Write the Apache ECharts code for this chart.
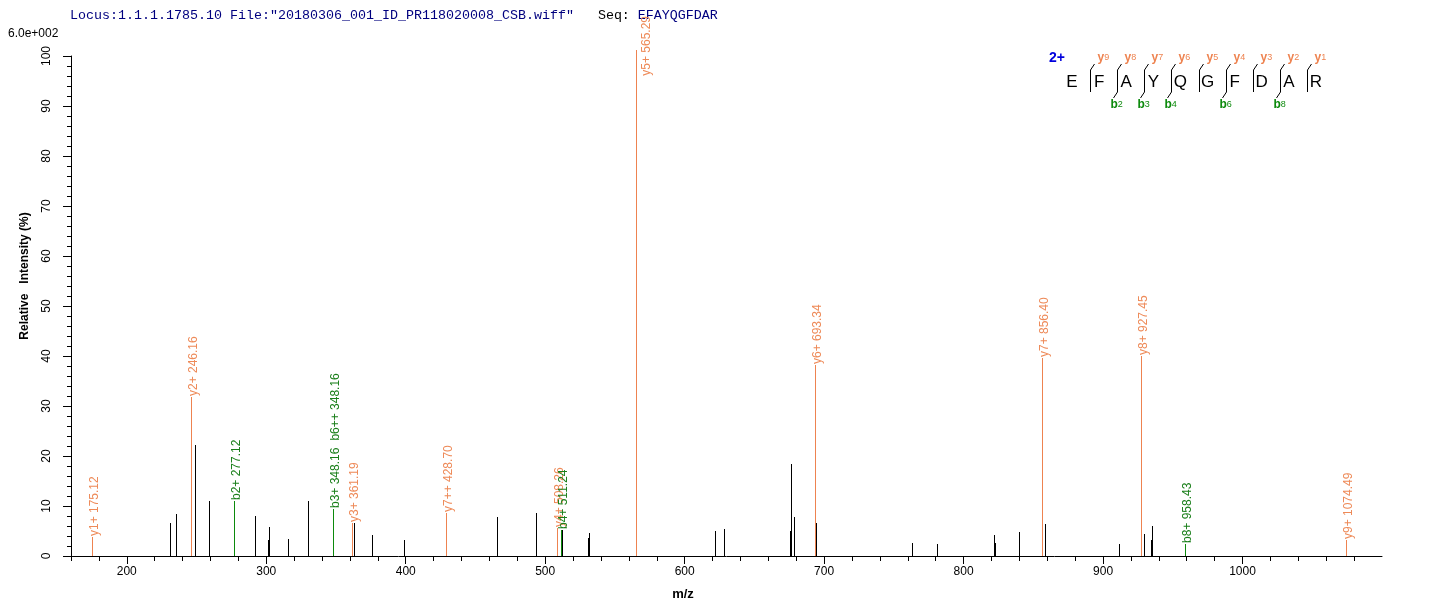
<!DOCTYPE html>
<html><head><meta charset="utf-8">
<script src="https://cdn.jsdelivr.net/npm/echarts@6/dist/echarts.min.js"></script>
<style>html,body{margin:0;padding:0;background:#fff}#c{width:1436px;height:616px}</style>
</head><body><div id="c"></div>
<script>
// ---- data ----
const titleLocus = 'Locus:1.1.1.1785.10 File:"20180306_001_ID_PR118020008_CSB.wiff"';
const seqText = 'EFAYQGFDAR';
const maxIntensityLabel = '6.0e+002';
const precursorCharge = '2+';
const sequence = ['E','F','A','Y','Q','G','F','D','A','R'];
const yIonsSeen = [9,8,7,6,5,4,3,2,1];
const bIonsSeen = [2,3,4,6,8];

const ionMz = [175.12, 246.16, 277.12, 348.16, 361.19, 428.70, 508.26, 511.24, 565.29, 693.34, 856.40, 927.45, 958.43, 1074.49];
const ionIntensity = [3.8, 31.8, 11.0, 9.5, 6.7, 8.7, 5.6, 5.3, 101.2, 38.2, 39.6, 40.0, 2.4, 3.2];
const ionKind = ['y','y','b','b','y','y','y','b','y','y','y','y','b','y'];
const ionLabels = [
  ['y1+ 175.12'], ['y2+ 246.16'], ['b2+ 277.12'], ['b3+ 348.16','b6++ 348.16'], ['y3+ 361.19'],
  ['y7++ 428.70'], ['y4+ 508.26'], ['b4+ 511.24'], ['y5+ 565.29'], ['y6+ 693.34'],
  ['y7+ 856.40'], ['y8+ 927.45'], ['b8+ 958.43'], ['y9+ 1074.49']
];

const otherMz = [231.2, 235.2, 248.8, 258.9, 291.8, 301.1, 302.0, 315.7, 330.1, 362.9, 376.1, 399.1, 465.4, 493.2,
  511.8, 530.6, 531.3, 621.8, 628.3, 675.7, 676.4, 678.6, 694.4, 762.7, 780.9, 821.9, 822.8, 839.6, 858.3,
  911.4, 929.4, 934.5, 935.2];
const otherIntensity = [6.6, 8.4, 22.2, 11.0, 8.0, 3.2, 5.8, 3.4, 11.0, 6.6, 4.3, 3.2, 7.8, 8.6,
  5.3, 3.6, 4.6, 5.0, 5.4, 5.0, 18.4, 7.8, 6.6, 2.6, 2.4, 4.2, 2.6, 4.9, 6.4,
  2.4, 4.4, 3.2, 6.0];

const xTickLabels = [200, 300, 400, 500, 600, 700, 800, 900, 1000];
const yTickLabels = [0, 10, 20, 30, 40, 50, 60, 70, 80, 90, 100];

// ---- styles ----
const ORANGE = '#EE8350', ORANGE_TXT = '#EE8A58';
const GREEN = '#0C8A0C', GREEN_TXT = '#1A7F1A';
const NAVY = '#00007F';
const SANS = '"Liberation Sans", Arial, sans-serif';
const LABEL_FONT = '12px ' + SANS;

const measureCtx = document.createElement('canvas').getContext('2d');
function textLen(t, font) { measureCtx.font = font; return measureCtx.measureText(t).width; }

const xMin = 160, xMax = 1100;
const minorTicks = [];
for (let v = xMin; v < xMax; v += 20) if (v % 100 !== 0) minorTicks.push(v);

function peakRenderer(kindColorFn, withLabels) {
  return function (params, api) {
    const mz = api.value(0), inten = api.value(1), idx = api.value(2);
    const base = api.coord([mz, 0]);
    const top = api.coord([mz, inten]);
    const x = Math.round(base[0]) + 0.5;
    const col = kindColorFn(idx);
    const children = [{
      type: 'line',
      shape: { x1: x, y1: Math.round(base[1]), x2: x, y2: Math.round(top[1]) },
      style: { stroke: col.line, lineWidth: 1 }
    }];
    if (withLabels) {
      const labs = ionLabels[idx];
      const lens = labs.map(t => textLen(t, LABEL_FONT));
      const gap = 7;
      const total = lens.reduce((a, b) => a + b, 0) + gap * (labs.length - 1);
      let lx = x + 2.5;
      let start = Math.round(top[1]) - 1;
      if (start - total < 14) { lx = x + 10; start = 16 + total; }
      labs.forEach((t, k) => {
        children.push({
          type: 'text', x: lx, y: start, rotation: Math.PI / 2,
          style: { text: t, font: LABEL_FONT, fill: col.text, align: 'left', verticalAlign: 'middle' }
        });
        start -= lens[k] + gap;
      });
    }
    return { type: 'group', children };
  };
}

// ---- graphic: title, sequence diagram ----
const graphics = [];
graphics.push({
  type: 'text', x: 70, y: 15,
  style: {
    text: '{t|' + titleLocus + '}{k|   Seq: }{t|' + seqText + '}',
    verticalAlign: 'middle', align: 'left',
    rich: {
      t: { font: '13.33px "Liberation Mono", monospace', fill: NAVY },
      k: { font: '13.33px "Liberation Mono", monospace', fill: '#000' }
    }
  }
});
graphics.push({ type: 'text', x: 8, y: 34, style: { text: maxIntensityLabel, font: '12px ' + SANS, fill: '#000', verticalAlign: 'middle' } });
graphics.push({ type: 'text', x: 25, y: 276, rotation: Math.PI / 2,
  style: { text: 'Relative   Intensity (%)', font: 'bold 12px ' + SANS, fill: '#000', align: 'center', verticalAlign: 'middle' } });
graphics.push({ type: 'text', x: 683, y: 594,
  style: { text: 'm/z', font: 'bold 13px ' + SANS, fill: '#000', align: 'center', verticalAlign: 'middle' } });

const letterX0 = 1072, letterStep = 27.1, letterY = 82;
graphics.push({ type: 'text', x: 1057, y: 58, style: { text: precursorCharge, font: 'bold 14px ' + SANS, fill: '#0000DD', align: 'center', verticalAlign: 'middle' } });
sequence.forEach((ch, i) => {
  graphics.push({ type: 'text', x: letterX0 + i * letterStep, y: letterY,
    style: { text: ch, font: '17px ' + SANS, fill: '#000', align: 'center', verticalAlign: 'middle' } });
});
for (let k = 1; k < sequence.length; k++) {
  const cx = Math.round(letterX0 + k * letterStep - 9) + 0.5;
  graphics.push({ type: 'line', shape: { x1: cx, y1: 70, x2: cx, y2: 92 }, style: { stroke: '#000', lineWidth: 1 } });
  const yn = sequence.length - k;
  if (yIonsSeen.indexOf(yn) >= 0) {
    graphics.push({ type: 'line', shape: { x1: cx, y1: 70, x2: cx + 4, y2: 64 }, style: { stroke: '#000', lineWidth: 1 } });
    graphics.push({ type: 'text', x: cx + 7, y: 58, style: {
      text: '{a|y}{n|' + yn + '}', align: 'left', verticalAlign: 'middle',
      rich: { a: { font: 'bold 12px ' + SANS, fill: ORANGE }, n: { font: '9px ' + SANS, fill: ORANGE } } } });
  }
  if (bIonsSeen.indexOf(k) >= 0) {
    graphics.push({ type: 'line', shape: { x1: cx, y1: 92, x2: cx - 4, y2: 98 }, style: { stroke: '#000', lineWidth: 1 } });
    graphics.push({ type: 'text', x: cx - 7, y: 105, style: {
      text: '{a|b}{n|' + k + '}', align: 'left', verticalAlign: 'middle',
      rich: { a: { font: 'bold 12px ' + SANS, fill: GREEN }, n: { font: '9px ' + SANS, fill: GREEN } } } });
  }
}

const chart = echarts.init(document.getElementById('c'), null, { renderer: 'canvas' });
chart.setOption({
  animation: false,
  backgroundColor: '#fff',
  grid: { left: 71, right: 54, top: 56, bottom: 60, containLabel: false },
  xAxis: [{
    type: 'value', min: xMin, max: xMax, position: 'bottom',
    axisLine: { show: true, onZero: false, lineStyle: { color: '#000', width: 1 } },
    axisTick: { show: true, customValues: xTickLabels, length: 8, lineStyle: { color: '#000' } },
    axisLabel: { show: true, customValues: xTickLabels, color: '#000', fontSize: 12, fontFamily: SANS, margin: 10,
      formatter: v => String(v) },
    splitLine: { show: false }
  }, {
    type: 'value', min: xMin, max: xMax, position: 'bottom', offset: 0,
    axisLine: { show: false },
    axisTick: { show: true, customValues: minorTicks, length: 5, lineStyle: { color: '#000' } },
    axisLabel: { show: false },
    splitLine: { show: false }
  }],
  yAxis: {
    type: 'value', min: 0, max: 100, interval: 10,
    axisLine: { show: true, onZero: false, lineStyle: { color: '#000', width: 1 } },
    axisTick: { show: true, length: 8, lineStyle: { color: '#000' } },
    minorTick: { show: true, splitNumber: 5, length: 4, lineStyle: { color: '#000' } },
    axisLabel: { show: true, rotate: 90, color: '#000', fontSize: 12, fontFamily: SANS, margin: 18,
      formatter: v => (yTickLabels.indexOf(v) >= 0 ? String(v) : '') },
    splitLine: { show: false }, minorSplitLine: { show: false }
  },
  graphic: graphics,
  series: [{
    type: 'custom', xAxisIndex: 0, clip: false, silent: true,
    data: otherMz.map((m, i) => [m, otherIntensity[i], i]),
    renderItem: peakRenderer(() => ({ line: '#000', text: '#000' }), false)
  }, {
    type: 'custom', xAxisIndex: 0, clip: false, silent: true,
    data: ionMz.map((m, i) => [m, ionIntensity[i], i]),
    renderItem: peakRenderer(i => ionKind[i] === 'y' ? { line: ORANGE, text: ORANGE_TXT } : { line: GREEN, text: GREEN_TXT }, true)
  }]
});
</script></body></html>
